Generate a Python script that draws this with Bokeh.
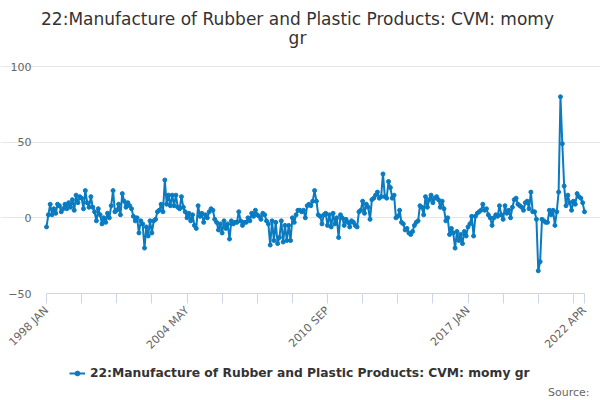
import math
from bokeh.plotting import figure
from bokeh.models import FixedTicker, Legend, LegendItem, Label, ColumnDataSource, Range1d
from bokeh.embed import file_html
from bokeh.resources import INLINE

# Monthly values, 1998 JAN .. 2022 APR
values = [
    -6, 2, 9, 2, 6, 3, 9, 8, 4, 6, 9, 6,            # 1998
    10, 7, 12, 5, 15, 10, 14, 13, 6, 18, 10, 7,     # 1999
    14, 7, 4, -2, 6, 2, -4, 0, -3, 3, 0, 8,         # 2000
    18, 4, 5, 9, 2, 16, 11, 7, 10, 8, 6, 1,         # 2001
    -2, 0, -10, -2, -4, -20, -6, -12, -2, -10, -2, -1,  # 2002
    4, 5, 9, 4, 25, 9, 15, 8, 15, 8, 15, 7,         # 2003
    6, 14, 7, 4, 0, 3, -2, 2, -5, -7, 8, 1,         # 2004
    3, -3, 2, 0, 4, 6, 5, -1, -3, -8, -4, -10,      # 2005
    -2, -7, -4, -14, -2, -4, -3, -3, 4, -2, -5, -3, # 2006
    -3, 0, -2, 3, 1, 5, 2, 1, -1, 3, 2, -2,         # 2007
    -4, -18, -2, -15, -3, -17, -13, -2, -16, -5, -15, -5,  # 2008
    -15, 0, -3, 2, 5, 5, 4, 5, 0, 8, 9, 8,          # 2009
    11, 18, 11, 2, 1, -4, 2, 3, -5, 2, -6, 3,       # 2010
    -4, 0, -13, 2, 0, -5, -1, -3, -6, -2, -3, -5,   # 2011
    -6, 4, 5, 11, 3, 9, 7, -1, 12, 13, 15, 17,      # 2012
    13, 14, 29, 14, 13, 24, 20, 13, 15, 0, 1, 5,    # 2013
    -3, -4, -8, -7, -10, -11, -9, -5, -3, -2, 8, 7, # 2014
    2, 14, 7, 12, 15, 10, 13, 14, 12, 7, 11, 6,     # 2015
    -2, 0, -11, -7, -10, -20, -9, -15, -11, -17, -9, -12,  # 2016
    -6, -4, 1, -12, 1, 3, 4, 5, 9, 5, 6, 2,         # 2017
    0, -5, 0, 2, 1, 8, 2, -1, 8, 3, 5, 0,           # 2018
    7, 12, 13, 9, 8, 7, 5, 10, 11, 6, 17, 4,        # 2019
    4, -1, -35, -29, -1, -2, -3, -3, 5, 2, 5, -5,   # 2020
    4, 17, 80, 49, 21, 8, 15, 10, 5, 11, 9, 16,     # 2021
    14, 13, 10, 4,                                  # 2022
]

tick_positions = [0, 19, 38, 57, 76, 95, 114, 133, 152, 171, 190, 209, 228, 247, 266, 285, 291]
tick_labels = {0: "1998 JAN", 76: "2004 MAY", 152: "2010 SEP", 228: "2017 JAN", 291: "2022 APR"}
y_ticks = [-50, 0, 50, 100]

series_name = "22:Manufacture of Rubber and Plastic Products: CVM: momy gr"
title_line1 = "22:Manufacture of Rubber and Plastic Products: CVM: momy"
title_line2 = "gr"
source_text = "Source:"

COLOR = "#0a7bc1"
FONT = "DejaVu Sans"

# ---- layout (canvas pixels; the figure is one full-size frame) ----
W, H = 600, 399
PLOT_LEFT, PLOT_RIGHT = 46, 584      # first / last month
PLOT_TOP, PLOT_BOTTOM = 66, 293      # y = 100 / y = -50
n = len(values)
y_lo, y_hi = min(y_ticks), max(y_ticks)
py = (PLOT_BOTTOM - PLOT_TOP) / (y_hi - y_lo)
px = (PLOT_RIGHT - PLOT_LEFT) / (n - 1)
x_start = -PLOT_LEFT / px
x_end = (n - 1) + (W - PLOT_RIGHT) / px
y_end = y_hi + PLOT_TOP / py
y_start = y_lo - (H - PLOT_BOTTOM) / py

src = ColumnDataSource(dict(x=list(range(n)), y=values))

p = figure(frame_width=W, frame_height=H, output_backend="svg",
           toolbar_location=None, title=None,
           x_range=Range1d(x_start, x_end), y_range=Range1d(y_start, y_end),
           min_border_left=0, min_border_right=0, min_border_top=0, min_border_bottom=0)

p.outline_line_color = None
p.xgrid.grid_line_color = None
p.ygrid.grid_line_color = "#e6e6e6"
p.ygrid.ticker = FixedTicker(ticks=[t for t in y_ticks if t != y_lo])

ya = p.yaxis[0]
ya.fixed_location = 0
ya.ticker = FixedTicker(ticks=y_ticks)
ya.axis_line_color = None
ya.major_tick_line_color = None
ya.minor_tick_line_color = None
ya.major_label_text_font = FONT
ya.major_label_text_font_size = "11px"
ya.major_label_text_color = "#666666"
ya.major_label_standoff = 9

xa = p.xaxis[0]
xa.fixed_location = y_lo
xa.bounds = (0, n - 1)
xa.ticker = FixedTicker(ticks=tick_positions)
xa.major_label_overrides = {t: tick_labels.get(t, "") for t in tick_positions}
xa.axis_line_color = "#ccd6eb"
xa.major_tick_line_color = "#ccd6eb"
xa.major_tick_out = 10
xa.major_tick_in = 0
xa.minor_tick_line_color = None
xa.major_label_orientation = math.pi / 4
xa.major_label_text_font = FONT
xa.major_label_text_font_size = "11px"
xa.major_label_text_color = "#666666"
xa.major_label_standoff = 5

line_r = p.line("x", "y", source=src, line_width=2, line_color=COLOR)
pts_r = p.scatter("x", "y", source=src, size=4, fill_color=COLOR, line_color=COLOR)

# title (two lines, centred on the page)
for txt, base in ((title_line1, 18), (title_line2, 37)):
    p.add_layout(Label(x=297, y=H - base, x_units="screen", y_units="screen",
                       text=txt, text_align="center", text_baseline="alphabetic",
                       text_font=FONT, text_font_size="17px", text_color="#333333"))

legend = Legend(items=[LegendItem(label=series_name, renderers=[line_r, pts_r])],
                location=(69, 19), orientation="horizontal",
                label_text_font=FONT, label_text_font_size="12.3px",
                label_text_font_style="bold", label_text_color="#333333",
                border_line_color=None, background_fill_alpha=0,
                glyph_width=16, glyph_height=12, padding=4, margin=0,
                label_standoff=5)
p.add_layout(legend, "center")

p.add_layout(Label(x=589, y=7, x_units="screen", y_units="screen", text=source_text,
                   text_align="right", text_baseline="alphabetic", text_font=FONT,
                   text_font_size="11px", text_color="#666666"))

open("out.html", "w").write(file_html(p, INLINE))
